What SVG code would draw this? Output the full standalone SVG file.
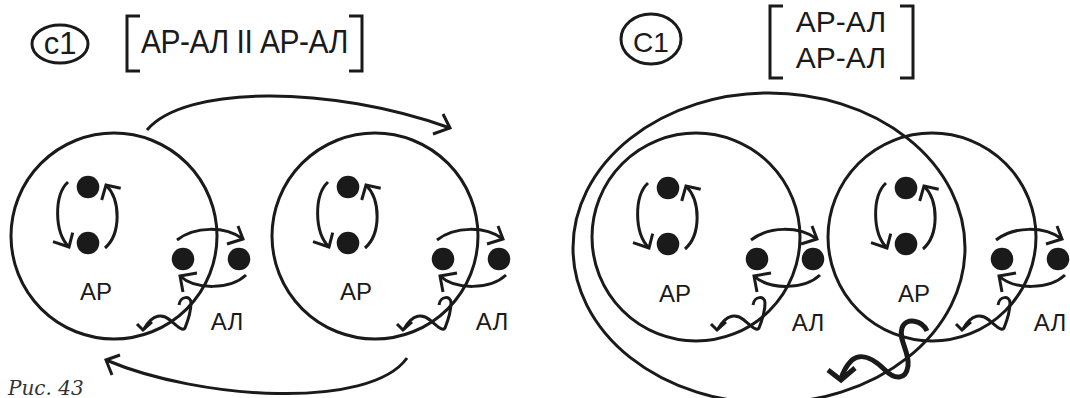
<svg xmlns="http://www.w3.org/2000/svg" xmlns:xlink="http://www.w3.org/1999/xlink" width="1070" height="398" viewBox="0 0 1070 398">
<style>
.ln{fill:none;stroke:#1a1a1a;stroke-width:3;stroke-linecap:butt;stroke-linejoin:miter}
.thk{fill:none;stroke:#1a1a1a;stroke-width:5;stroke-linecap:butt;stroke-linejoin:miter}
.dot{fill:#1a1a1a}
.t{font-family:"Liberation Sans",Arial,sans-serif;fill:#1a1a1a}
.lbl{font-size:24px;text-anchor:middle}
.cap{font-family:"DejaVu Serif","Liberation Serif",serif;font-style:italic;font-size:20px;fill:#333}
</style>
<defs>
<g id="loop">
<circle class="dot" cx="0" cy="0" r="11.3"/>
<circle class="dot" cx="0" cy="56" r="11.3"/>
<path class="ln" d="M-20,-5 C-34,8 -34,45 -19,60"/>
<polyline class="ln" points="-35,54.7 -19,60 -15.3,45.7"/>
<path class="ln" d="M17,61 C33,47 33,13 18,-2"/>
<polyline class="ln" points="32.7,1.3 18,-2 13.7,13"/>
</g>
<g id="al">
<circle class="dot" cx="0" cy="0" r="11.3"/>
<circle class="dot" cx="56" cy="0" r="11.3"/>
<path class="ln" d="M-6,-19 C12,-33 42,-33 60,-20"/>
<polyline class="ln" points="55,-33 60,-20 44,-15"/>
<path class="ln" d="M63,16 C47,31 12,31 -3,17"/>
<polyline class="ln" points="14,14 -3,17 0,33"/>
<path class="ln" d="M-4,46 C-3,37 8,36 8,44 C8,54 4,64 2,69 C0,73 -6,67 -13,61 C-20,55 -30,54 -39,70"/>
<polyline class="ln" points="-46,65 -40,71 -31,63"/>
</g>
</defs>

<g id="header-left">
<ellipse class="ln" cx="60" cy="44" rx="28" ry="19"/>
<text class="t" x="60" y="54" font-size="31" text-anchor="middle">c1</text>
<polyline class="ln" points="140,16 127,16 127,71 140,71"/>
<polyline class="ln" points="349,16 362,16 362,71 349,71"/>
<text class="t" x="141" y="53" font-size="30" letter-spacing="-0.5" transform="translate(0,53) scale(1,1.1) translate(0,-53)">АР-АЛ II АР-АЛ</text>
</g>

<g id="header-right">
<ellipse class="ln" cx="651" cy="39" rx="30" ry="25"/>
<text class="t" x="651" y="52" font-size="28" text-anchor="middle">C1</text>
<polyline class="ln" points="783,6 770,6 770,78 783,78"/>
<polyline class="ln" points="900,6 913,6 913,78 900,78"/>
<text class="t" x="841" y="32" font-size="30" text-anchor="middle">АР-АЛ</text>
<text class="t" x="841" y="68" font-size="30" text-anchor="middle">АР-АЛ</text>
</g>

<g id="left-cell-1">
<circle class="ln" cx="114" cy="236" r="103"/>
<use xlink:href="#loop" href="#loop" transform="translate(88,187)"/>
<use xlink:href="#al" href="#al" transform="translate(183,259)"/>
<text class="t lbl" x="96" y="300">АР</text>
<text class="t lbl" x="227" y="330">АЛ</text>
</g>

<g id="left-cell-2">
<circle class="ln" cx="375" cy="236" r="103"/>
<use xlink:href="#loop" href="#loop" transform="translate(348,187)"/>
<use xlink:href="#al" href="#al" transform="translate(443,259)"/>
<text class="t lbl" x="356" y="300">АР</text>
<text class="t lbl" x="492" y="330">АЛ</text>
</g>

<g id="right-outer">
<ellipse class="ln" cx="769" cy="248" rx="196" ry="155"/>
</g>

<g id="right-cell-1">
<circle class="ln" cx="696" cy="237" r="104"/>
<use xlink:href="#loop" href="#loop" transform="translate(668,188)"/>
<use xlink:href="#al" href="#al" transform="translate(757,259)"/>
<text class="t lbl" x="675" y="302">АР</text>
<text class="t lbl" x="808" y="331">АЛ</text>
</g>

<g id="right-cell-2">
<circle class="ln" cx="932" cy="237" r="104"/>
<use xlink:href="#loop" href="#loop" transform="translate(906,188)"/>
<use xlink:href="#al" href="#al" transform="translate(1002,259)"/>
<text class="t lbl" x="914" y="302">АР</text>
<text class="t lbl" x="1050" y="331">АЛ</text>
</g>

<g id="connectors">
<path class="ln" d="M147,130 C185,85 330,85 450,128"/>
<polyline class="ln" points="443,114 450,128 433,134"/>
<path class="ln" d="M407,358 C370,410 200,400 106,360"/>
<polyline class="ln" points="120,355 106,360 112,375"/>
<path class="thk" d="M927,331 C922,320 906,317 902,328 C898,340 910,352 908,366 C906,380 895,380 885,370 C875,360 862,352 852,360 C847,365 843,372 841,379"/>
<polyline class="thk" points="828,370 841,380 855,368"/>
</g>

<text class="cap" x="8" y="395">Рис. 43</text>
</svg>
